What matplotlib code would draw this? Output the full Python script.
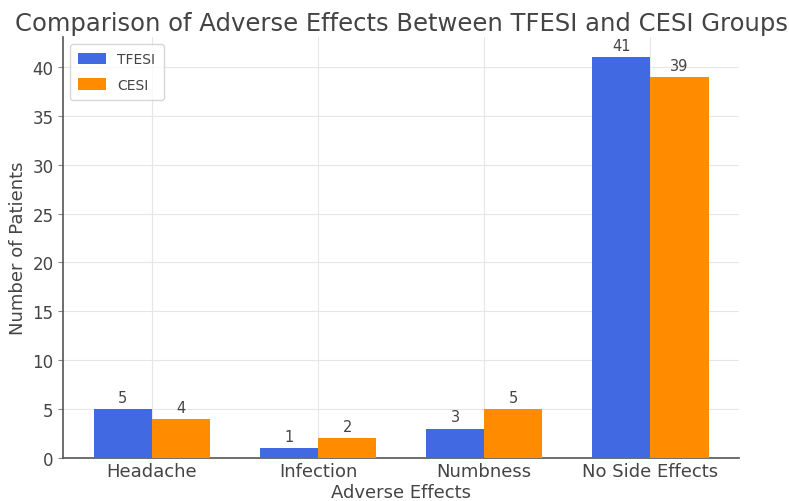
import matplotlib
matplotlib.use("Agg")
import matplotlib.pyplot as plt
import numpy as np

effects = ["Headache", "Infection", "Numbness", "No Side Effects"]
tfesi = [5, 1, 3, 41]
cesi = [4, 2, 5, 39]

plt.rcParams['font.family'] = ['DejaVu Sans']
txt = '#444444'

fig = plt.figure(figsize=(7.89, 5.02), dpi=100)
ax = fig.add_axes([0.080, 0.086, 0.857, 0.838])

x = np.arange(len(effects))
w = 0.35
b1 = ax.bar(x - w / 2, tfesi, w, label='TFESI', color='royalblue', zorder=3)
b2 = ax.bar(x + w / 2, cesi, w, label='CESI', color='darkorange', zorder=3)

# value on top of each bar
for bars in (b1, b2):
    for rect in bars:
        h = rect.get_height()
        ax.annotate(f'{int(h)}', xy=(rect.get_x() + rect.get_width() / 2, h),
                    xytext=(0, 3), textcoords='offset points',
                    ha='center', va='bottom', fontsize=10.5, color=txt)

ax.set_xticks(x)
ax.set_xticklabels(effects, fontsize=13, color=txt)
ax.tick_params(axis='y', labelsize=12, labelcolor=txt, color='#888888')
ax.tick_params(axis='x', length=0, pad=3)
ax.set_xlabel('Adverse Effects', fontsize=13, color=txt, labelpad=2)
ax.set_ylabel('Number of Patients', fontsize=13, color=txt)
ax.set_title('Comparison of Adverse Effects Between TFESI and CESI Groups',
             fontsize=17.5, color=txt, pad=5)

ax.grid(True, color='#e6e6e6', linewidth=0.8, zorder=0)
for side in ('top', 'right'):
    ax.spines[side].set_visible(False)
for side in ('left', 'bottom'):
    ax.spines[side].set_color('#555555')
    ax.spines[side].set_linewidth(1.2)

ax.legend(loc='upper left', fontsize=10, labelcolor=txt, labelspacing=0.8,
          handleheight=0.9, borderpad=0.6)

fig.savefig('out.png', dpi=100)
